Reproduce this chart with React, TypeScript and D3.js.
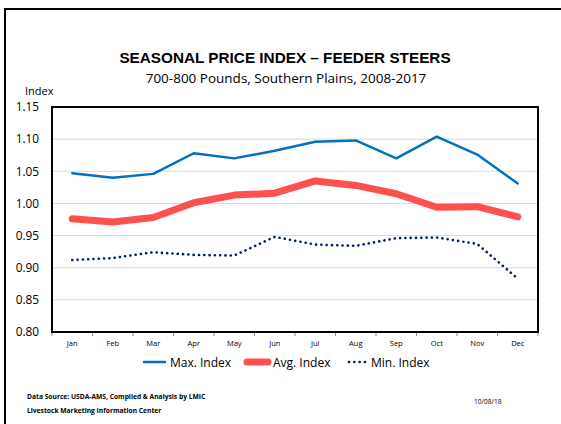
import React, { useRef, useEffect } from "react";
import * as d3 from "d3";

const months = ["Jan", "Feb", "Mar", "Apr", "May", "Jun", "Jul", "Aug", "Sep", "Oct", "Nov", "Dec"];
const maxIndex = [1.047, 1.040, 1.046, 1.078, 1.070, 1.082, 1.096, 1.098, 1.070, 1.104, 1.076, 1.031];
const avgIndex = [0.976, 0.971, 0.978, 1.001, 1.013, 1.016, 1.035, 1.028, 1.015, 0.994, 0.995, 0.979];
const minIndex = [0.912, 0.915, 0.924, 0.920, 0.919, 0.948, 0.936, 0.934, 0.946, 0.947, 0.937, 0.883];
const yTicks = [0.8, 0.85, 0.9, 0.95, 1.0, 1.05, 1.1, 1.15];

const series = [
  { name: "Max. Index", values: maxIndex, color: "#0070C0", width: 2.4, dash: null },
  { name: "Avg. Index", values: avgIndex, color: "#FF5050", width: 7, dash: null },
  { name: "Min. Index", values: minIndex, color: "#002060", width: 2.6, dash: "0.1,5.2" },
];

const App = () => {
  const ref = useRef(null);
  const width = 561;
  const height = 424;
  const left = 52, right = 538, top = 107, bottom = 332;

  useEffect(() => {
    const svg = d3.select(ref.current);
    svg.selectAll("*").remove();

    const x = d3.scaleBand().domain(months).range([left, right]);
    const y = d3.scaleLinear().domain([0.8, 1.15]).range([bottom, top]);

    // outer frame
    svg.append("path")
      .attr("d", `M5,${height} L5,9 L${width},9`)
      .attr("fill", "none").attr("stroke", "#000").attr("stroke-width", 2);

    svg.append("text").attr("x", 285).attr("y", 63).attr("text-anchor", "middle")
      .attr("font-family", "Liberation Sans, Arial").attr("font-weight", "bold").attr("font-size", 15.3)
      .text("SEASONAL PRICE INDEX \u2013 FEEDER STEERS");
    svg.append("text").attr("x", 286).attr("y", 83).attr("text-anchor", "middle")
      .attr("font-family", "Open Sans").attr("font-size", 13.5)
      .text("700-800 Pounds, Southern Plains, 2008-2017");
    svg.append("text").attr("x", 25).attr("y", 95)
      .attr("font-family", "Open Sans").attr("font-size", 11).text("Index");

    // grid
    svg.append("g").selectAll("line").data(yTicks.slice(1, -1)).join("line")
      .attr("x1", left).attr("x2", right).attr("y1", d => y(d)).attr("y2", d => y(d))
      .attr("stroke", "#d9d9d9").attr("stroke-width", 1);

    // y labels
    svg.append("g").selectAll("text").data(yTicks).join("text")
      .attr("x", 39).attr("y", d => y(d) + 4.3).attr("text-anchor", "end")
      .attr("font-family", "Open Sans").attr("font-size", 11.8)
      .text(d => d3.format(".2f")(d));

    // x ticks
    const xAxis = d3.axisBottom(x).tickSize(0).tickPadding(9);
    const gx = svg.append("g").attr("transform", `translate(0,${bottom})`).call(xAxis);
    gx.select(".domain").remove();
    gx.selectAll("text").attr("font-family", "Open Sans").attr("font-size", 7.5).attr("fill", "#000");
    svg.append("g").selectAll("line").data(d3.range(13)).join("line")
      .attr("x1", i => left + i * x.bandwidth()).attr("x2", i => left + i * x.bandwidth())
      .attr("y1", bottom).attr("y2", bottom + 4).attr("stroke", "#888").attr("stroke-width", 1);

    const line = d3.line<number>().x((d, i) => x(months[i])! + x.bandwidth() / 2).y(d => y(d));

    series.forEach(s => {
      const p = svg.append("path").attr("d", line(s.values))
        .attr("fill", "none").attr("stroke", s.color).attr("stroke-width", s.width)
        .attr("stroke-linejoin", "round").attr("stroke-linecap", "round");
      if (s.dash) p.attr("stroke-dasharray", s.dash);
    });

    // plot border
    svg.append("rect").attr("x", left).attr("y", top).attr("width", right - left).attr("height", bottom - top)
      .attr("fill", "none").attr("stroke", "#000").attr("stroke-width", 2);

    // legend
    const legendX = [144, 247, 349];
    const lg = svg.append("g").selectAll("g").data(series).join("g")
      .attr("transform", (d, i) => `translate(${legendX[i]},362)`);
    lg.each(function (s) {
      const g = d3.select(this);
      const l = g.append("line").attr("x1", 0).attr("x2", 21).attr("y1", 0).attr("y2", 0)
        .attr("stroke", s.color).attr("stroke-width", s.width).attr("stroke-linecap", "round");
      if (s.dash) l.attr("stroke-dasharray", s.dash);
      g.append("text").attr("x", s.dash ? 22 : 26).attr("y", 4.5)
        .attr("font-family", "Open Sans").attr("font-size", 12).text(s.name);
    });

    // footer
    svg.append("text").attr("x", 27).attr("y", 399).attr("font-family", "Open Sans")
      .attr("font-weight", "bold").attr("font-size", 6.7).text("Data Source:  USDA-AMS, Compiled & Analysis by LMIC");
    svg.append("text").attr("x", 27).attr("y", 413).attr("font-family", "Open Sans")
      .attr("font-weight", "bold").attr("font-size", 6.7).text("Livestock Marketing Information Center");
    svg.append("text").attr("x", 474).attr("y", 404).attr("font-family", "Open Sans")
      .attr("font-size", 6.6).text("10/08/18");
  });

  return (
    <svg ref={ref} width={width} height={height}
      style={{ position: "absolute", left: 0, top: 0, background: "#fff" }} />
  );
};

export default App;
